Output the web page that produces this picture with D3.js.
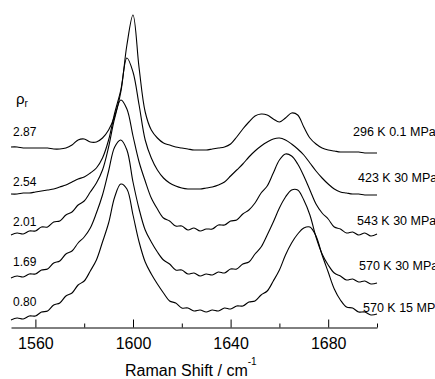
<!DOCTYPE html>
<html>
<head>
<meta charset="utf-8">
<script src="https://cdn.jsdelivr.net/npm/d3@7"></script>
<style>
  body { margin: 0; background: #fff; }
  text { font-family: "Liberation Sans", Arial, sans-serif; fill: #000; }
</style>
</head>
<body>
<div id="my_dataviz"></div>
<script>
// Raman shift grid (cm-1), one sample every 2.5 cm-1 from 1550 to 1700
const shift = d3.range(1550, 1700.01, 2.5);

// offset intensities (a.u.), top spectrum first
const s296K_01MPa = [180,180,179,179,179,179,179,178,178,179,182,187,188,185,185,189,197,211,235,282,
  312,259,215,197,189,184,182,180,179,178,177,177,177,178,179,180,183,190,198,205,
  211,213,212,208,205,209,214,212,200,189,183,179,177,176,175,175,175,175,174,174,174];
const s423K_30MPa = [133,133,134,134,135,136,137,138,140,142,145,148,150,154,159,169,187,214,237,269,
  255,222,187,169,157,149,144,141,139,138,138,138,139,140,142,145,151,157,163,170,
  176,181,185,188,189,187,183,178,172,164,156,149,143,138,135,134,133,133,132,132,132];
const s543K_30MPa = [92,94,93,96,96,100,100,105,106,112,115,122,126,135,144,157,180,209,227,218,
  191,165,146,129,118,109,106,101,101,97,99,96,98,98,102,102,106,107,113,117,
  124,134,141,154,167,173,171,163,151,137,123,114,108,100,98,94,95,92,94,91,93];
const s570K_30MPa = [49,51,50,53,53,57,58,64,66,73,76,84,90,99,114,132,156,180,187,177,
  145,118,97,85,75,67,63,57,57,53,54,51,53,52,55,54,58,58,63,65,
  73,80,92,105,119,130,137,137,127,112,90,73,62,54,51,47,48,45,46,43,44];
const s570K_15MPa = [7,9,8,11,11,15,16,22,24,31,34,42,46,56,67,85,104,130,143,138,
  112,85,65,53,43,34,26,24,19,19,16,17,15,17,16,19,18,21,21,25,
  26,32,36,46,57,72,84,93,99,100,91,72,55,38,27,20,19,15,15,12,13];

const densities = ["2.87", "2.54", "2.01", "1.69", "0.80"];
const conditions = ["296 K 0.1 MPa", "423 K 30 MPa", "543 K 30 MPa", "570 K 30 MPa", "570 K 15 MPa"];
const majorTicks = [1560, 1600, 1640, 1680];
const minorTicks = [1580, 1620, 1660, 1700];

onload = function () {
    const width = 435, height = 379;

    const svg = d3.select("#my_dataviz")
        .append("svg")
        .attr("width", width)
        .attr("height", height);

    const x = d3.scaleLinear().domain([1550, 1700]).range([11, 377]);
    const y = d3.scaleLinear().domain([0, 320]).range([327, 7]);

    const spectra = [s296K_01MPa, s423K_30MPa, s543K_30MPa, s570K_30MPa, s570K_15MPa];

    const line = d3.line()
        .x((d, i) => x(shift[i]))
        .y(d => y(d))
        .curve(d3.curveCatmullRom.alpha(0.5));

    svg.selectAll("path.spec")
        .data(spectra)
        .enter()
        .append("path")
        .attr("class", "spec")
        .attr("d", line)
        .attr("fill", "none")
        .attr("stroke", "#000")
        .attr("stroke-width", 1.1);

    // X axis, ticks pointing inwards
    const axis = svg.append("g")
        .attr("transform", "translate(0,327.5)")
        .call(d3.axisBottom(x).tickValues(majorTicks).tickFormat(d3.format("d"))
            .tickSizeInner(-8).tickSizeOuter(0).tickPadding(10));
    axis.select(".domain").attr("stroke", "#000");
    axis.selectAll("text").style("font-size", "16px").attr("fill", "#000");

    axis.selectAll("line.minor")
        .data(minorTicks)
        .enter()
        .append("line")
        .attr("class", "minor")
        .attr("x1", d => x(d) + 0.5).attr("x2", d => x(d) + 0.5)
        .attr("y1", 0).attr("y2", -4)
        .attr("stroke", "#000");

    const title = svg.append("text")
        .attr("x", 125)
        .attr("y", 376)
        .style("font-size", "16px");
    title.append("tspan").text("Raman Shift / cm");
    title.append("tspan").attr("dy", -11).style("font-size", "10px").text("-1");

    // density labels on the left
    const rho = svg.append("text").attr("x", 16).attr("y", 104).style("font-size", "15px");
    rho.append("tspan").text("ρ");
    rho.append("tspan").attr("dy", 3).style("font-size", "10px").text("r");

    const leftY = [136, 186, 226, 266, 306];
    svg.selectAll("text.rho")
        .data(densities)
        .enter()
        .append("text")
        .attr("class", "rho")
        .attr("x", 13)
        .attr("y", (d, i) => leftY[i])
        .style("font-size", "12px")
        .text(d => d);

    // conditions on the right
    const rightX = [353, 358, 357, 359, 363];
    const rightY = [135.5, 181.5, 224.5, 269.5, 311.5];
    svg.selectAll("text.cond")
        .data(conditions)
        .enter()
        .append("text")
        .attr("class", "cond")
        .attr("x", (d, i) => rightX[i])
        .attr("y", (d, i) => rightY[i])
        .style("font-size", "12.5px")
        .text(d => d);
}
</script>
</body>
</html>
